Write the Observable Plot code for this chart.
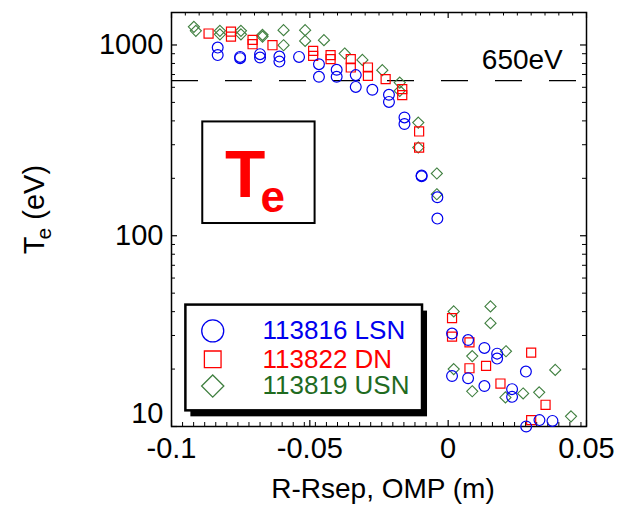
<!DOCTYPE html>
<html><head><meta charset="utf-8">
<script src="https://cdn.jsdelivr.net/npm/d3@7"></script>
<script src="https://cdn.jsdelivr.net/npm/@observablehq/plot@0.6"></script>
<style>
body{margin:0;background:#fff}
svg{font-family:"Liberation Sans",Arial,sans-serif}
</style>
</head><body><div id="chart"></div>
<script>
// ---- data (R-Rsep in m, Te in eV) ----
const lsnX = [-0.0833,-0.0833,-0.0752,-0.0752,-0.0680,-0.0680,-0.0610,-0.0610,-0.0539,-0.0467,-0.0467,-0.0403,-0.0403,-0.0334,-0.0334,-0.0274,-0.0214,-0.0214,-0.0158,-0.0158,-0.0096,-0.0096,-0.0039,-0.0039,
  0.0014,0.0072,0.0131,0.0177,0.0177,0.0281,0.0014,0.0072,0.0131,0.0231,0.0231,0.0282,0.0330,0.0377];
const lsnY = [969,885,866,853,895,859,869,818,866,793,681,741,681,695,603,582,548,503,417,385,205,207,159,123,
  30.7,28.4,25.8,24.1,22.7,19.4,18.4,17.9,16.3,15.7,14.3,10.0,10.8,10.7];
const dnX = [-0.0866,-0.0785,-0.0785,-0.0707,-0.0707,-0.0635,-0.0488,-0.0488,-0.0425,-0.0425,-0.0352,-0.0352,-0.0290,-0.0290,-0.0226,-0.0166,-0.0166,-0.0105,-0.0105,
  0.0014,0.0014,0.0077,0.0077,0.0137,0.0189,0.0300,0.0352,0.0300];
const dnY = [1148,1175,1107,1063,1009,997,931,877,884,843,843,762,762,689,662,587,546,352,290,
  37.0,29.6,27.6,20.2,20.8,16.8,24.4,13.0,10.8];
const usnX = [-0.0919,-0.0912,-0.0825,-0.0825,-0.0749,-0.0749,-0.0671,-0.0671,-0.0595,-0.0595,-0.0517,-0.0517,-0.0449,-0.0374,-0.0310,-0.0238,-0.0175,-0.0175,-0.0108,-0.0108,-0.0041,-0.0041,
  0.0020,0.0153,0.0153,0.0087,0.0209,0.0020,0.0087,0.0207,0.0271,0.0329,0.0387,0.0444];
const usnY = [1245,1186,1186,1137,1186,1137,1130,1107,1196,997,1196,1050,1060,902,835,738,635,575,392,290,212,165,
  40.1,42.6,34.8,23.4,24.8,20.0,15.3,14.2,14.9,15.1,19.8,11.3];

const seriesNames = ["113816 LSN", "113822 DN", "113819 USN"];
const refLevel = [650];
const refLabel = "650eV";
const xMajor = [-0.1, -0.05, 0, 0.05];
const xMinorBottom = d3.range(-24, 13).filter(i => i !== 0).map(i => +(i * 0.004).toFixed(3));
const xMinorTop = d3.range(-19, 10).filter(i => i % 10 !== 0).map(i => +(i * 0.005).toFixed(3));
const yMajor = [10, 100, 1000];
const yMinor = [20,30,40,50,60,70,80,90,200,300,400,500,600,700,800,900];

const toRows = (xs, ys) => xs.map((x, i) => ({x, y: ys[i]}));
const lsn = toRows(lsnX, lsnY), dn = toRows(dnX, dnY), usn = toRows(usnX, usnY);

const cBlue = "#0000ee", cRed = "#ff0000", cGreen = "#3f7f3f", cGreenText = "#1f6b1f";
const innerH = 509 - 12 - 83;

const legendRows = [
  {name: seriesNames[0], y: 31.7, symbol: "circle", r: 11, color: cBlue, text: cBlue},
  {name: seriesNames[1], y: 22.5, symbol: "square", r: 9.4, color: cRed, text: cRed},
  {name: seriesNames[2], y: 16.3, symbol: "diamond2", r: 10, color: cGreen, text: cGreenText}
];

const marks = [
  Plot.frame({stroke: "black", strokeWidth: 1.5}),
  // ticks (inward)
  Plot.tickX(xMajor, {x: d => d, insetTop: innerH - 6, stroke: "black", strokeWidth: 1.2}),
  Plot.tickX(xMinorBottom, {x: d => d, insetTop: innerH - 4, stroke: "black", strokeWidth: 1}),
  Plot.tickX(xMajor, {x: d => d, insetBottom: innerH - 6, stroke: "black", strokeWidth: 1.2}),
  Plot.tickX(xMinorTop, {x: d => d, insetBottom: innerH - 3.5, stroke: "black", strokeWidth: 1}),
  Plot.tickY(yMajor, {y: d => d, insetRight: 415 - 6, stroke: "black", strokeWidth: 1.2}),
  Plot.tickY(yMinor, {y: d => d, insetRight: 415 - 4, stroke: "black", strokeWidth: 1}),
  Plot.tickY(yMajor, {y: d => d, insetLeft: 415 - 6, stroke: "black", strokeWidth: 1.2}),
  Plot.tickY(yMinor, {y: d => d, insetLeft: 415 - 4, stroke: "black", strokeWidth: 1}),
  // axes labels
  Plot.axisX({ticks: xMajor, tickSize: 0, tickPadding: 11, fontSize: 29, tickFormat: d => d === 0 ? "0" : String(d), label: null}),
  Plot.axisY({ticks: [100, 1000], tickSize: 0, tickPadding: 8, fontSize: 29, tickFormat: d => String(d), label: null}),
  Plot.axisY({ticks: [10], tickSize: 0, tickPadding: 8, fontSize: 29, dy: -13, tickFormat: d => String(d), label: null}),
  Plot.text(["R-Rsep, OMP (m)"], {frameAnchor: "bottom", dy: 63, dx: 4, fontSize: 28, lineAnchor: "middle", textAnchor: "middle", fill: "black"}),
  Plot.text(["Te (eV)"], {frameAnchor: "left", dx: -137, dy: -10, rotate: -90, fontSize: 29, lineAnchor: "middle", textAnchor: "middle", fill: "black"}),
  // reference line
  Plot.ruleY(refLevel, {y: d => d, stroke: "black", strokeWidth: 1.3, strokeDasharray: "27,27"}),
  Plot.text([refLabel], {x: () => 0.0268, y: () => 835, fontSize: 28, fill: "black", lineAnchor: "middle"}),
  // data
  Plot.dot(usn, {x: "x", y: "y", symbol: "diamond2", r: 5, stroke: cGreen, strokeWidth: 1.1}),
  Plot.dot(dn, {x: "x", y: "y", symbol: "square", r: 5.1, stroke: cRed, strokeWidth: 1.2}),
  Plot.dot(lsn, {x: "x", y: "y", symbol: "circle", r: 5.4, stroke: cBlue, strokeWidth: 1.2}),
  // Te box
  Plot.rect([0], {x1: () => -0.0887, x2: () => -0.0481, y1: () => 395, y2: () => 115.9, fill: "white", stroke: "black", strokeWidth: 2}),
  Plot.text(["T"], {x: () => -0.0734, y: () => 207, fontSize: 66, fontWeight: "bold", fill: "red", lineAnchor: "middle"}),
  Plot.text(["e"], {x: () => -0.0678, y: () => 158.6, fontSize: 44, fontWeight: "bold", fill: "red", lineAnchor: "middle", textAnchor: "start"}),
  // legend
  Plot.rect([0], {x1: () => -0.0948, x2: () => -0.00927, y1: () => 43.3, y2: () => 12.08, fill: "black", dx: 5, dy: 6}),
  Plot.rect([0], {x1: () => -0.0948, x2: () => -0.00927, y1: () => 43.3, y2: () => 12.08, fill: "white", stroke: "black", strokeWidth: 2.5})
];
for (const row of legendRows) {
  marks.push(Plot.dot([row], {x: () => -0.0851, y: "y", symbol: row.symbol, r: row.r, stroke: row.color, strokeWidth: 1.3}));
  marks.push(Plot.text([row], {x: () => -0.0671, y: "y", text: "name", textAnchor: "start", lineAnchor: "middle", fontSize: 26, fill: row.text}));
}

const chart = Plot.plot({
  width: 617, height: 509,
  marginTop: 12, marginBottom: 83, marginLeft: 171, marginRight: 31,
  style: {fontFamily: "'Liberation Sans', Arial, sans-serif", background: "white", overflow: "visible"},
  x: {domain: [-0.1, 0.05]},
  y: {type: "log", domain: [10, 1480]},
  marks
});

// subscript in y-axis title
const NS = "http://www.w3.org/2000/svg";
for (const t of chart.querySelectorAll("text")) {
  if (t.textContent === "Te (eV)") {
    t.textContent = "";
    const a = document.createElementNS(NS, "tspan"); a.textContent = "T";
    const b = document.createElementNS(NS, "tspan"); b.textContent = "e"; b.setAttribute("font-size", "21"); b.setAttribute("dy", "7"); b.setAttribute("dx", "-3");
    const c = document.createElementNS(NS, "tspan"); c.textContent = " (eV)"; c.setAttribute("dy", "-7");
    t.append(a, b, c);
  }
}
document.getElementById("chart").append(chart);
</script>
</body></html>
